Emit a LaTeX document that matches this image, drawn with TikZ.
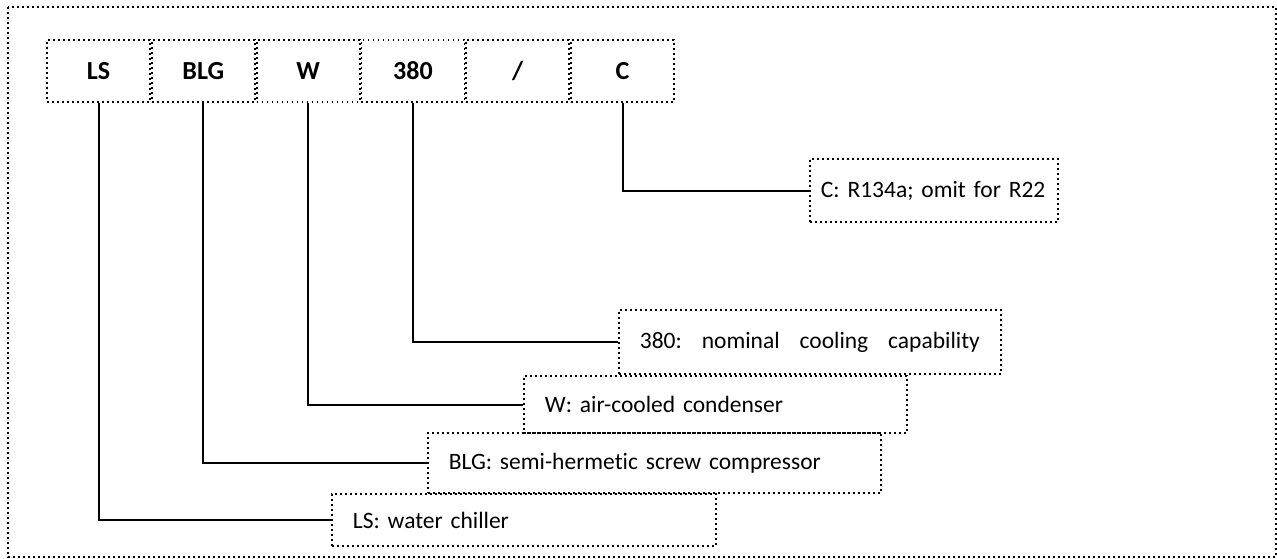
\documentclass[tikz,border=0pt]{standalone}
\usepackage{fontspec}
\setmainfont{Carlito}[Ligatures=NoCommon]
\usetikzlibrary{positioning}

\begin{document}
\begin{tikzpicture}[x=1pt,y=-1pt,line cap=round,
  dotline/.style={line width=1.8pt,line cap=butt,dash pattern=on 1.8pt off 3.2pt},
  codebox/.style={draw,dotline,minimum width=103pt,minimum height=62pt,inner sep=0pt,
    font=\fontsize{26}{30}\selectfont\bfseries},
  notebox/.style={draw,dotline,anchor=west,inner xsep=21pt,inner ysep=0pt,align=left,
    font=\fontsize{23.5}{28}\selectfont},
  link/.style={line width=2pt,line cap=butt}]
\useasboundingbox (0,0) rectangle (1277,559);
\draw[dotline] (8,7) rectangle (1276,557);
\node[codebox] (ls) at (98.5,71) {LS};
\node[codebox,right=0pt of ls] (blg) {BLG};
\node[codebox,right=0pt of blg] (w) {W};
\node[codebox,right=0pt of w] (cap) {380};
\node[codebox,right=0pt of cap] (sl) {/};
\node[codebox,right=0pt of sl] (c) {C};
\node[notebox,inner xsep=11pt,minimum height=63pt,text width=226pt] (cnote) at (809,190.5) {C: R134a; omit for R22};
\node[notebox,minimum height=64pt,text width=340pt] (capnote) at (618,342)
  {\makebox[340pt]{380:\hfill nominal\hfill cooling\hfill capability}};
\node[notebox,minimum height=57pt,text width=341pt] (wnote) at (523,404.5) {W: air-cooled condenser};
\node[notebox,minimum height=60pt,text width=411pt] (blgnote) at (427,463) {BLG: semi-hermetic screw compressor};
\node[notebox,minimum height=52pt,text width=342pt] (lsnote) at (331,520) {LS: water chiller};
\draw[link] (c.south) |- (cnote.west);
\draw[link] (cap.south) |- (capnote.west);
\draw[link] (w.south) |- (wnote.west);
\draw[link] (blg.south) |- (blgnote.west);
\draw[link] (ls.south) |- (lsnote.west);
\end{tikzpicture}
\end{document}
